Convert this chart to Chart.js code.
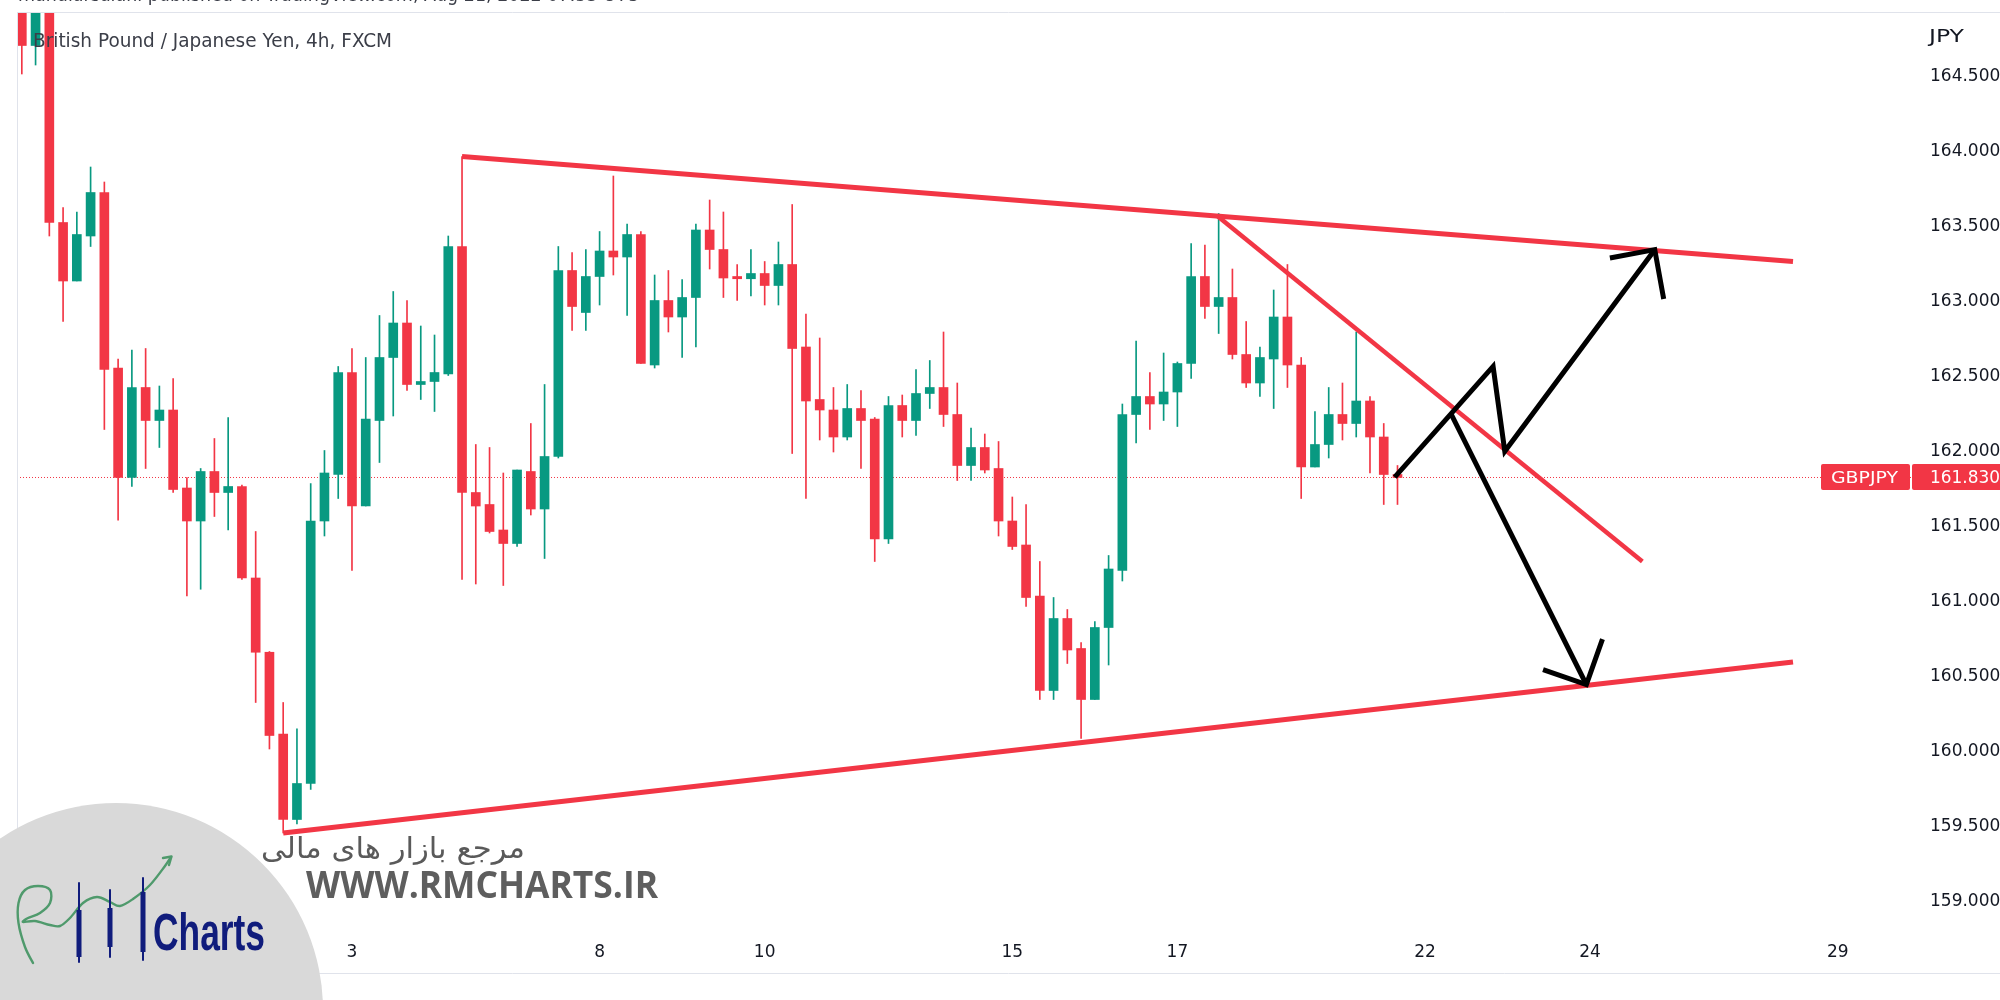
<!DOCTYPE html>
<html>
<head>
<meta charset="utf-8">
<script src="https://cdn.jsdelivr.net/npm/chart.js@4.4.0/dist/chart.umd.min.js"></script>
<style>
html,body{margin:0;padding:0;background:#ffffff;overflow:hidden;}
canvas{display:block;}
</style>
</head>
<body>
<canvas id="c" width="2000" height="1000" style="width:2000px;height:1000px"></canvas>
<script>
// ---------- DATA ----------
const candleOpen = [165.00,164.71,165.00,163.53,163.14,163.44,163.73,162.56,161.83,162.43,
162.21,162.28,161.76,161.54,161.87,161.73,161.77,161.16,160.665,160.12,
159.55,159.79,161.54,161.85,162.53,161.64,162.21,162.63,162.86,162.45,
162.47,162.52,163.37,161.73,161.65,161.48,161.39,161.87,161.62,161.97,
163.21,162.93,163.17,163.34,163.30,163.45,162.58,163.01,162.90,163.03,
163.48,163.35,163.17,163.155,163.19,163.11,163.25,162.70,162.35,162.28,
162.10,162.29,162.22,161.42,162.31,162.21,162.39,162.43,162.25,161.91,
162.03,161.89,161.54,161.38,161.04,160.41,160.89,160.69,160.35,160.83,
161.21,162.25,162.37,162.32,162.40,162.59,163.17,162.97,163.03,162.65,
162.46,162.62,162.90,162.58,161.90,162.05,162.25,162.19,162.34,162.10,
161.85];
const candleHigh = [165.10,165.10,165.10,163.63,163.60,163.90,163.80,162.62,162.68,162.69,
162.44,162.49,161.83,161.89,162.09,162.23,161.78,161.47,160.67,160.33,
160.155,161.79,162.01,162.57,162.69,162.63,162.91,163.07,163.01,162.84,
162.78,163.44,163.97,162.05,162.03,161.86,161.88,162.19,162.45,163.37,
163.33,163.35,163.47,163.84,163.52,163.47,163.18,163.21,163.15,163.52,
163.68,163.60,163.25,163.35,163.27,163.40,163.65,162.92,162.76,162.43,
162.45,162.41,162.23,162.37,162.38,162.55,162.61,162.80,162.46,162.16,
162.12,162.07,161.70,161.65,161.27,161.03,160.95,160.73,160.87,161.31,
162.32,162.74,162.53,162.66,162.60,163.39,163.38,163.59,163.22,162.87,
162.70,163.08,163.25,162.63,162.27,162.43,162.46,162.80,162.37,162.19,
161.91];
const candleLow = [164.52,164.58,163.44,162.87,163.14,163.37,162.15,161.545,161.77,161.89,
162.03,161.73,161.04,161.085,161.57,161.48,161.15,160.33,160.02,159.46,
159.52,159.75,161.44,161.69,161.21,161.64,161.93,162.24,162.41,162.35,
162.27,162.51,161.15,161.12,161.46,161.11,161.37,161.58,161.29,161.96,
162.81,162.81,162.98,163.18,162.91,162.59,162.56,162.80,162.63,162.70,
163.22,163.03,163.01,163.04,162.98,162.98,161.99,161.69,162.08,162.00,
162.08,161.89,161.27,161.39,162.10,162.11,162.29,162.17,161.81,161.81,
161.86,161.44,161.35,160.97,160.35,160.35,160.59,160.09,160.35,160.58,
161.14,162.06,162.15,162.21,162.17,162.49,162.89,162.79,162.62,162.43,
162.37,162.29,162.43,161.69,161.90,161.96,162.08,162.10,161.86,161.65,
161.65];
const candleClose = [164.71,165.00,163.53,163.14,163.45,163.73,162.55,161.83,162.43,162.21,
162.28,161.75,161.54,161.87,161.73,161.77,161.16,160.665,160.11,159.55,
159.79,161.54,161.86,162.53,161.64,162.22,162.63,162.86,162.45,162.47,
162.53,163.37,161.73,161.64,161.47,161.39,161.88,161.62,161.97,163.21,
162.97,163.17,163.34,163.30,163.45,162.59,163.01,162.90,163.03,163.48,
163.35,163.16,163.155,163.19,163.11,163.25,162.69,162.34,162.28,162.10,
162.29,162.21,161.42,162.31,162.21,162.39,162.43,162.25,161.91,162.03,
161.88,161.54,161.37,161.03,160.41,160.89,160.68,160.35,160.83,161.22,
162.25,162.37,162.32,162.40,162.59,163.17,162.97,163.03,162.65,162.46,
162.63,162.90,162.58,161.90,162.05,162.25,162.19,162.34,162.10,161.85,
161.83];

const dayTickLabels = ['3','8','10','15','17','22','24','29'];
const dayTickIndex  = [24,42,54,72,84,102,114,132];
const priceTicks = [159.0,159.5,160.0,160.5,161.0,161.5,162.0,162.5,163.0,163.5,164.0,164.5];
const lastPrice = 161.830;
const symbolName = 'GBPJPY';
const currencyName = 'JPY';

// drawn trend lines (candle index, price)
const resistanceX = [32, 128.75];     const resistanceY = [163.97, 163.27];
const supportX    = [19, 128.75];     const supportY    = [159.46, 160.60];
const fallingX    = [86.95, 117.8];   const fallingY    = [163.57, 161.27];
const upPathX     = [99.8, 106.95, 107.8, 118.7];  const upPathY = [161.833, 162.571, 162.005, 163.349];
const upHeadX     = [115.44, 118.7, 119.35];       const upHeadY = [163.293, 163.349, 163.02];
const downPathX   = [103.92, 113.73];              const downPathY = [162.249, 160.449];
const downHeadX   = [110.58, 113.73, 114.9];       const downHeadY = [160.549, 160.449, 160.753];

// ---------- CHART ----------
const UP = '#089981', DOWN = '#f23645', LINE_RED = '#f23645';
const X_MIN = -0.35, X_MAX = 137.4;
const Y_MIN = 158.7733, Y_MAX = 164.9267;

const pts = (xs, ys) => xs.map((x, i) => ({x: x, y: ys[i]}));
const candleColors = candleOpen.map((o, i) => candleClose[i] >= o ? UP : DOWN);

const lineDs = (data, color, width, order, extra) => Object.assign({
  type: 'line', data: data, borderColor: color, backgroundColor: color, borderWidth: width,
  pointRadius: 0, pointHoverRadius: 0, fill: false, tension: 0, order: order,
  borderCapStyle: 'butt', borderJoinStyle: 'miter'
}, extra || {});

function fitText(ctx, text, x, y, width, font, color, rtl) {
  ctx.save();
  ctx.font = font;
  ctx.fillStyle = color;
  ctx.textBaseline = 'alphabetic';
  ctx.textAlign = 'left';
  if (rtl) ctx.direction = 'rtl';
  const w = ctx.measureText(text).width;
  ctx.translate(x, y);
  ctx.scale(width / w, 1);
  ctx.fillText(text, 0, 0);
  ctx.restore();
}
function rr(ctx, x, y, w, h, r) {
  ctx.beginPath();
  ctx.moveTo(x + r, y);
  ctx.lineTo(x + w - r, y); ctx.quadraticCurveTo(x + w, y, x + w, y + r);
  ctx.lineTo(x + w, y + h - r); ctx.quadraticCurveTo(x + w, y + h, x + w - r, y + h);
  ctx.lineTo(x + r, y + h); ctx.quadraticCurveTo(x, y + h, x, y + h - r);
  ctx.lineTo(x, y + r); ctx.quadraticCurveTo(x, y, x + r, y);
  ctx.closePath();
}
function smoothPath(ctx, p) {
  ctx.beginPath();
  ctx.moveTo(p[0][0], p[0][1]);
  for (let i = 0; i < p.length - 1; i++) {
    const p0 = p[i - 1] || p[i], p1 = p[i], p2 = p[i + 1], p3 = p[i + 2] || p2;
    ctx.bezierCurveTo(p1[0] + (p2[0] - p0[0]) / 6, p1[1] + (p2[1] - p0[1]) / 6,
                      p2[0] - (p3[0] - p1[0]) / 6, p2[1] - (p3[1] - p1[1]) / 6, p2[0], p2[1]);
  }
}

const decorPlugin = {
  id: 'decor',
  afterDraw(chart) {
    const ctx = chart.ctx;
    const ys = chart.scales.y;
    // frame lines
    ctx.save();
    ctx.strokeStyle = '#e0e3eb';
    ctx.lineWidth = 1;
    ctx.beginPath();
    ctx.moveTo(17, 12.5); ctx.lineTo(2000, 12.5);
    ctx.moveTo(17.5, 12); ctx.lineTo(17.5, 974);
    ctx.moveTo(17, 973.5); ctx.lineTo(2000, 973.5);
    ctx.stroke();
    ctx.restore();

    // price tag
    const py = Math.round(ys.getPixelForValue(lastPrice));
    ctx.save();
    ctx.fillStyle = LINE_RED;
    rr(ctx, 1821, py - 13, 89, 26, 2); ctx.fill();
    rr(ctx, 1912, py - 13, 90, 26, 2); ctx.fill();
    ctx.restore();
    fitText(ctx, symbolName, 1831, py + 6, 67, '16px "DejaVu Sans"', '#ffffff');
    fitText(ctx, lastPrice.toFixed(3), 1930, py + 6, 70, '17px "DejaVu Sans"', '#ffffff');

    // currency label
    fitText(ctx, currencyName, 1929, 42, 35, '17px "DejaVu Sans"', '#131722');

    // title and clipped header
    fitText(ctx, 'British Pound / Japanese Yen, 4h, FXCM', 33, 46.5, 359, '19px "DejaVu Sans"', '#3b3e48');
    fitText(ctx, 'mahdiarsalani published on TradingView.com, Aug 21, 2022 07:53 UTC', 18, 0.5, 620, '19px "DejaVu Sans"', '#3b3e48');

    // watermark circle
    ctx.save();
    ctx.fillStyle = '#d9d9d9';
    ctx.beginPath();
    ctx.arc(116, 1010, 207, 0, Math.PI * 2);
    ctx.fill();
    // green script curve
    ctx.strokeStyle = '#4f9a6c';
    ctx.lineWidth = 2.4;
    ctx.lineCap = 'round';
    ctx.lineJoin = 'round';
    smoothPath(ctx, [[33,963],[25,947],[18.5,923],[18.5,903],[25,890],[38,886],[50,890],[50,903],[40,913],[28,918],[23,922],[35,921],[50,925],[60,926],[70,918],[83,903],[97,897],[110,902],[120,906],[133,899],[150,885],[165,866],[171,857]]);
    ctx.stroke();
    ctx.beginPath();
    ctx.moveTo(163, 858); ctx.lineTo(171.5, 856.5); ctx.lineTo(169, 865);
    ctx.stroke();
    // navy candlestick icons
    ctx.strokeStyle = '#101c7c';
    ctx.fillStyle = '#101c7c';
    ctx.lineWidth = 2;
    const icon = [[79, 883, 962, 910, 957], [110, 890, 957, 908, 947], [143, 878, 960, 892, 952]];
    icon.forEach(c => {
      ctx.beginPath(); ctx.moveTo(c[0], c[1]); ctx.lineTo(c[0], c[2]); ctx.stroke();
      ctx.fillRect(c[0] - 2.5, c[3], 5, c[4] - c[3]);
    });
    ctx.restore();
    fitText(ctx, 'Charts', 153, 950, 112, 'bold 51px "Liberation Sans", "DejaVu Sans", sans-serif', '#101c7c');
    // watermark texts
    fitText(ctx, 'مرجع بازار های مالی', 261, 858, 264, '29px "DejaVu Sans"', '#5a5a5a', true);
    fitText(ctx, 'WWW.RMCHARTS.IR', 306, 898, 352, 'bold 38px "Open Sans"', '#5e5e5e');
  }
};

const zeroPad = s => { s.paddingTop = 0; s.paddingBottom = 0; s.paddingLeft = 0; s.paddingRight = 0; };

new Chart(document.getElementById('c'), {
  type: 'bar',
  data: {
    datasets: [
      lineDs(pts([X_MIN, X_MAX], [lastPrice, lastPrice]), LINE_RED, 1, 5, {borderDash: [1, 2]}),
      {
        type: 'bar', label: 'wick', order: 4, grouped: false,
        data: candleLow.map((l, i) => ({x: i, y: [l, candleHigh[i]]})),
        backgroundColor: candleColors, borderWidth: 0, barThickness: 1
      },
      {
        type: 'bar', label: 'body', order: 3, grouped: false,
        data: candleOpen.map((o, i) => ({x: i, y: [o, candleClose[i]]})),
        backgroundColor: candleColors, borderWidth: 0, barThickness: 9, minBarLength: 2
      },
      lineDs(pts(resistanceX, resistanceY), LINE_RED, 5, 2),
      lineDs(pts(supportX, supportY), LINE_RED, 5, 2),
      lineDs(pts(fallingX, fallingY), LINE_RED, 4.5, 2),
      lineDs(pts(upPathX, upPathY), '#000000', 5, 1),
      lineDs(pts(upHeadX, upHeadY), '#000000', 5, 1),
      lineDs(pts(downPathX, downPathY), '#000000', 5, 1),
      lineDs(pts(downHeadX, downHeadY), '#000000', 5, 1)
    ]
  },
  options: {
    responsive: false,
    devicePixelRatio: 1,
    animation: false,
    events: [],
    layout: {padding: {left: 17, top: 13, right: 0, bottom: 0}},
    plugins: {legend: {display: false}, tooltip: {enabled: false}, title: {display: false}},
    scales: {
      x: {
        type: 'linear', min: X_MIN, max: X_MAX, offset: false,
        grid: {display: false, drawTicks: false, offset: false}, border: {display: false},
        afterBuildTicks: s => { s.ticks = dayTickIndex.map(v => ({value: v})); },
        afterFit: s => { s.height = 64; zeroPad(s); },
        ticks: {
          autoSkip: false, maxRotation: 0, minRotation: 0, padding: 6,
          color: '#131722', font: {family: 'DejaVu Sans', size: 17},
          callback: v => { const i = dayTickIndex.findIndex(t => Math.abs(t - v) < 1e-6); return i >= 0 ? dayTickLabels[i] : ''; }
        }
      },
      y: {
        type: 'linear', position: 'right', min: Y_MIN, max: Y_MAX,
        grid: {display: false, drawTicks: false}, border: {display: false},
        afterBuildTicks: s => { s.ticks = priceTicks.map(v => ({value: v})); },
        afterFit: s => { s.width = 88; zeroPad(s); },
        ticks: {
          autoSkip: false, padding: 18, color: '#131722',
          font: {family: 'DejaVu Sans', size: 17},
          callback: v => Number(v).toFixed(3)
        }
      }
    }
  },
  plugins: [decorPlugin]
});
</script>
</body>
</html>
